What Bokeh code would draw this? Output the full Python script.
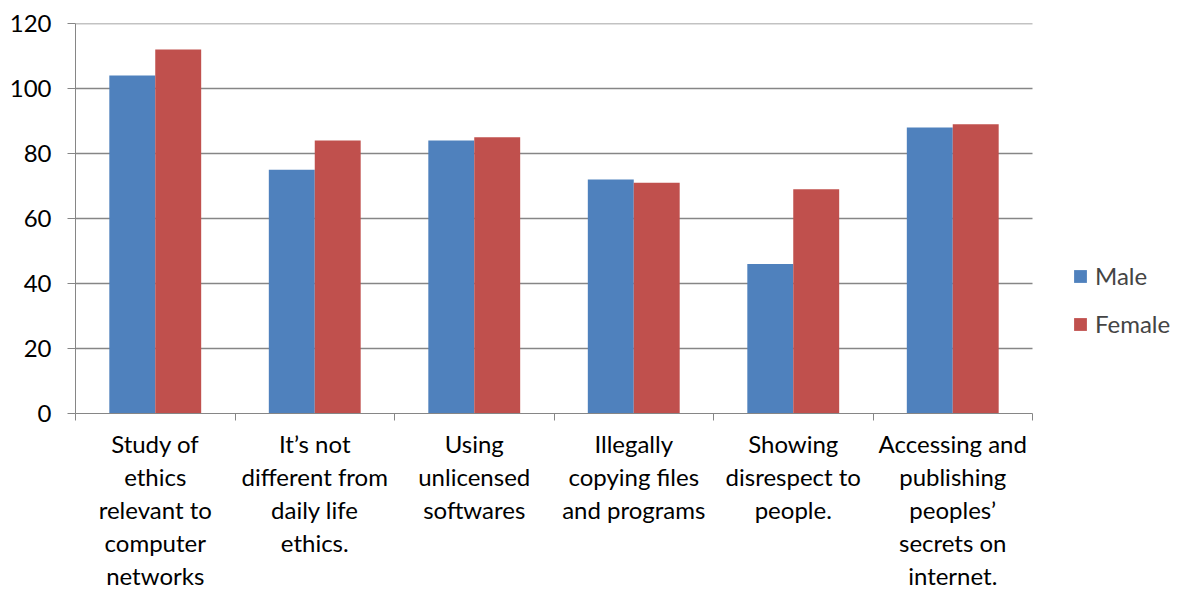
from bokeh.plotting import figure
from bokeh.models import Range1d, FixedTicker, Legend, LegendItem, ColumnDataSource
from bokeh.embed import file_html
from bokeh.resources import INLINE

categories = [
    "Study of\nethics\nrelevant to\ncomputer\nnetworks",
    "It\u2019s not\ndifferent from\ndaily life\nethics.",
    "Using\nunlicensed\nsoftwares",
    "Illegally\ncopying files\nand programs",
    "Showing\ndisrespect to\npeople.",
    "Accessing and\npublishing\npeoples\u2019\nsecrets on\ninternet.",
]
male = [104, 75, 84, 72, 46, 88]
female = [112, 84, 85, 71, 69, 89]
y_ticks = [0, 20, 40, 60, 80, 100, 120]

FONT = "Lato"
BLUE = "#4F81BD"
RED = "#C0504D"
GRAY = "#868686"

n = len(categories)
centers = [i + 0.5 for i in range(n)]
bw = 0.288
src = ColumnDataSource(dict(
    xm=[c - bw / 2 for c in centers], xf=[c + bw / 2 for c in centers],
    male=male, female=female))

# plot area spans 957 px for the categories; extra room to the right for the legend
LEFT, FRAME_W, TOTAL_W = 75, 957, 1187
x_end = n * (TOTAL_W - LEFT) / FRAME_W

p = figure(frame_width=TOTAL_W - LEFT, frame_height=390, output_backend="svg",
           toolbar_location=None,
           x_range=Range1d(0, x_end), y_range=Range1d(0, 120),
           min_border_left=LEFT, min_border_right=0, min_border_top=23, min_border_bottom=0)
p.outline_line_color = None
p.background_fill_color = "white"

# horizontal gridlines across the category area only
grid_y = y_ticks[1:]
p.segment(x0=[0] * len(grid_y), x1=[n] * len(grid_y), y0=grid_y, y1=grid_y,
          line_color=GRAY, line_width=1.5)

rm = p.vbar(x="xm", top="male", width=bw, source=src, color=BLUE, line_color=None)
rf = p.vbar(x="xf", top="female", width=bw, source=src, color=RED, line_color=None)

# y axis
p.yaxis.ticker = FixedTicker(ticks=y_ticks)
p.yaxis.axis_line_color = GRAY
p.yaxis.major_tick_line_color = GRAY
p.yaxis.major_tick_in = 0
p.yaxis.major_tick_out = 8
p.yaxis.minor_tick_line_color = None
p.yaxis.major_label_text_font = FONT
p.yaxis.major_label_text_font_size = "24px"
p.yaxis.major_label_text_color = "black"
p.yaxis.major_label_standoff = 16

# x axis
p.xaxis.bounds = (0, n)
p.xaxis.ticker = FixedTicker(ticks=centers, minor_ticks=list(range(n + 1)))
p.xaxis.major_label_overrides = {c: categories[i] for i, c in enumerate(centers)}
p.xaxis.axis_line_color = GRAY
p.xaxis.major_tick_line_color = None
p.xaxis.major_tick_in = 0
p.xaxis.major_tick_out = 0
p.xaxis.minor_tick_line_color = GRAY
p.xaxis.minor_tick_in = 0
p.xaxis.minor_tick_out = 7
p.xaxis.major_label_text_font = FONT
p.xaxis.major_label_text_font_size = "24px"
p.xaxis.major_label_text_color = "black"
p.xaxis.major_label_standoff = 8
p.xaxis.major_label_text_line_height = 1.14

p.xgrid.grid_line_color = None
p.ygrid.grid_line_color = None

legend = Legend(items=[LegendItem(label="Male", renderers=[rm]),
                       LegendItem(label="Female", renderers=[rf])],
                location=(997, 75))
legend.border_line_color = None
legend.background_fill_alpha = 0
legend.label_text_font = FONT
legend.label_text_font_size = "24px"
legend.glyph_width = 16
legend.glyph_height = 16
legend.label_height = 16
legend.spacing = 19
legend.label_standoff = 7
legend.padding = 10
legend.margin = 0
p.add_layout(legend, "center")

open("out.html", "w").write(file_html(p, INLINE))
